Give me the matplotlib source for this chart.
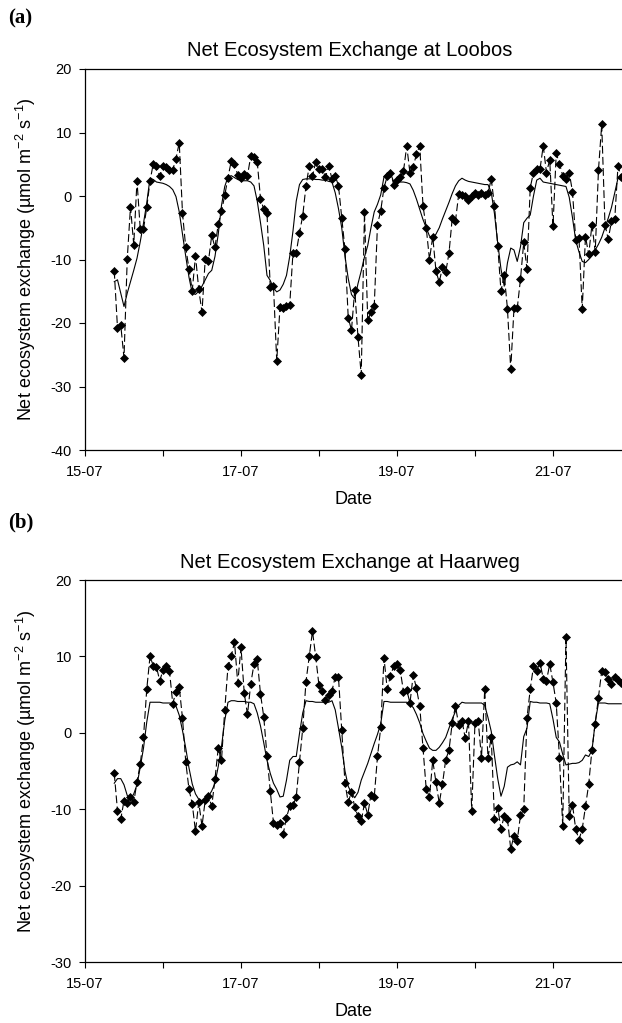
import matplotlib
matplotlib.use('Agg')
import matplotlib.pyplot as plt
import matplotlib.dates as mdates
import pandas as pd

plt.rcParams['font.family'] = ['Liberation Sans', 'DejaVu Sans']
plt.rcParams['mathtext.fontset'] = 'custom'
plt.rcParams['mathtext.rm'] = 'Liberation Sans'
plt.rcParams['mathtext.it'] = 'Liberation Sans:italic'
plt.rcParams['mathtext.default'] = 'regular'
plt.rcParams['axes.unicode_minus'] = False

# ---------------- data (hourly, starting 15-07 09:00) ----------------
start_time = '2003-07-15 09:00'

loobos_obs = [
    -11.8, -20.8, -20.3, -25.5, -9.9, -1.7, -7.7, 2.4, -5.2, -5.2,
    -1.8, 2.3, 5.1, 4.7, 3.1, 4.7, 4.5, 4.1, 4.1, 5.9,
    8.4, -2.7, -8.1, -11.5, -14.9, -9.4, -14.7, -18.3, -9.9, -10.2,
    -6.2, -8.1, -4.4, -2.4, 0.1, 2.9, 5.5, 5.1, 3.3, 2.9,
    3.4, 3.2, 6.3, 6.2, 5.4, -0.4, -2.1, -2.7, -14.3, -14.2,
    -26.0, -17.5, -17.7, -17.3, -17.1, -8.9, -8.9, -5.8, -3.1, 1.6,
    4.7, 3.1, 5.4, 4.3, 4.2, 3.0, 4.7, 2.7, 3.2, 1.6,
    -3.4, -8.4, -19.2, -21.1, -14.8, -22.2, -28.2, -2.5, -19.6, -18.3,
    -17.4, -4.5, -2.3, 1.3, 3.1, 3.7, 1.8, 2.5, 3.0, 3.9,
    7.9, 3.6, 4.6, 6.6, 7.9, -1.5, -5.0, -10.0, -6.4, -11.8,
    -13.6, -11.2, -12.0, -9.0, -3.5, -3.9, 0.3, 0.1, 0.0, -0.6,
    0.0, 0.4, 0.2, 0.5, 0.2, 0.4, 2.7, -1.5, -7.8, -15.0,
    -12.4, -17.8, -27.3, -17.7, -17.7, -13.1, -7.3, -11.5, 1.3, 3.7,
    4.3, 4.2, 7.9, 3.7, 5.7, -4.8, 6.7, 5.1, 3.2, 2.7,
    3.7, 0.7, -6.9, -6.6, -17.8, -6.4, -9.2, -4.5, -8.8, 4.1,
    11.3, -4.5, -6.8, -4.0, -3.7, 4.7, 3.0,
]

loobos_model = [
    -13.5, -13.2, -15.3, -17.4, -15.3, -13.5, -11.7, -9.8, -7.2, -4.3,
    -1.1, 2.8, 2.6, 2.2, 2.1, 2.0, 1.8, 1.5, 1.0, -0.1,
    -2.5, -6.0, -9.5, -12.8, -15.3, -15.5, -15.0, -14.2, -13.2, -12.2,
    -11.7, -9.5, -6.0, -1.5, 1.5, 3.0, 3.2, 2.9, 2.6, 2.4,
    2.4, 2.4, 2.2, 1.6, -0.8, -4.2, -7.8, -12.5, -13.3, -14.5,
    -15.1, -14.8, -13.9, -12.5, -9.5, -5.5, -0.8, 1.8, 2.6, 2.7,
    2.7, 2.7, 2.6, 2.6, 2.5, 2.5, 2.3, 2.2, 0.5, -2.0,
    -5.0, -9.5, -13.0, -15.5, -16.2, -13.8, -11.8, -9.6, -7.8, -5.0,
    -2.5, -1.3, 0.2, 3.0, 3.6, 3.6, 2.2, 2.2, 2.2, 2.2,
    2.1, 1.9, 0.9, -0.5, -2.1, -3.7, -5.0, -6.3, -6.7, -6.0,
    -5.0, -3.6, -2.3, -1.0, 0.4, 1.6, 2.4, 2.8, 2.5, 2.3,
    2.2, 2.1, 2.0, 1.9, 1.8, 1.8, 0.6, -2.8, -7.4, -11.5,
    -14.2, -10.5, -8.2, -8.5, -10.3, -8.0, -4.2, -3.5, -3.0, 0.0,
    2.5, 2.8, 2.2, 2.1, 2.0, 1.9, 1.8, 1.7, 1.6, 1.5,
    -0.2, -3.4, -7.0, -8.8, -10.3, -10.5, -10.0, -9.4, -8.5, -7.6,
    -6.5, -5.0, -3.5, -1.8, 0.5, 2.8, 2.6,
]

haarweg_obs = [
    -5.3, -10.2, -11.3, -8.9, -9.2, -8.4, -9.1, -6.4, -4.1, -0.6,
    5.7, 10.0, 8.8, 8.6, 6.8, 8.2, 8.8, 8.1, 3.8, 5.4,
    6.0, 1.9, -3.8, -7.4, -9.3, -12.9, -9.1, -12.2, -8.8, -8.3,
    -9.6, -6.0, -2.0, -3.6, 3.0, 8.7, 10.0, 11.9, 6.5, 11.2,
    5.2, 2.4, 6.4, 9.0, 9.6, 5.1, 2.1, -3.0, -7.6, -11.8,
    -12.1, -11.8, -13.2, -11.1, -9.6, -9.5, -8.4, -3.8, 0.6, 6.7,
    10.0, 13.3, 9.9, 6.2, 5.5, 4.3, 5.0, 5.5, 7.3, 7.3,
    0.4, -6.6, -9.1, -7.7, -9.7, -10.9, -11.6, -9.2, -10.7, -8.1,
    -8.4, -3.1, 0.7, 9.8, 5.7, 7.5, 8.7, 9.0, 8.2, 5.4,
    5.6, 3.9, 7.6, 5.8, 3.5, -2.0, -7.4, -8.4, -3.6, -6.5,
    -9.2, -6.7, -3.5, -2.3, 1.3, 3.5, 1.0, 1.6, -0.7, 1.5,
    -10.2, 1.3, 1.5, -3.3, 5.7, -3.3, -0.5, -11.3, -9.8, -12.6,
    -10.9, -11.3, -15.2, -13.5, -14.1, -10.8, -10.0, 1.9, 5.7, 8.7,
    8.1, 9.2, 7.1, 6.8, 9.0, 6.6, 3.9, -3.3, -12.2, 12.6,
    -10.9, -9.4, -12.6, -14.0, -12.6, -9.6, -6.7, -2.2, 1.2, 4.5,
    8.1, 7.9, 7.1, 6.4, 7.3, 6.9, 6.5,
]

haarweg_model = [
    -6.6, -6.0, -6.0, -6.8, -8.2, -8.7, -8.0, -6.8, -4.5, -2.0,
    1.4, 4.0, 4.0, 4.0, 4.0, 3.9, 3.9, 3.9, 3.8, 3.5,
    2.3, 0.3, -2.0, -4.6, -6.7, -8.0, -8.7, -8.9, -8.7, -8.3,
    -7.6, -6.6, -4.4, -1.8, 1.6, 4.0, 4.2, 4.2, 4.1, 4.1,
    4.1, 4.0, 4.0, 3.8, 2.6, 0.9, -1.3, -3.6, -5.3, -6.6,
    -7.4, -8.4, -8.3, -6.2, -3.6, -3.1, -3.1, -0.1, 2.6, 4.2,
    4.1, 4.1, 4.0, 4.0, 4.0, 4.0, 4.0, 4.2, 3.0, 0.6,
    -1.9, -5.0, -7.0, -7.9, -8.5, -7.8, -6.2, -5.1, -4.0, -2.7,
    -1.4, -0.2, 1.2, 4.1, 4.1, 4.0, 4.0, 4.0, 4.0, 4.0,
    4.0, 3.7, 3.3, 2.4, 1.3, -0.1, -1.1, -2.0, -2.3, -2.3,
    -1.9, -1.3, -0.6, 0.6, 1.8, 2.8, 3.6, 4.0, 3.9, 3.9,
    3.9, 3.9, 3.9, 3.9, 3.6, 2.0, 0.2, -3.0, -6.0, -8.3,
    -7.0, -4.5, -4.2, -4.1, -3.8, -4.2, -0.5, 0.6, 4.1, 4.0,
    4.0, 3.9, 3.9, 3.9, 3.8, 1.8, -0.6, -1.2, -2.8, -4.2,
    -4.1, -4.0, -4.0, -3.9, -3.6, -2.9, -3.1, -2.3, 1.4, 3.9,
    3.9, 3.9, 3.8, 3.8, 3.8, 3.8, 3.8,
]

titles = ['Net Ecosystem Exchange at Loobos', 'Net Ecosystem Exchange at Haarweg']
panel_tags = ['(a)', '(b)']
y_limits = [(-40, 20), (-30, 20)]
y_label = 'Net ecosystem exchange (\u00b5mol m$^{-2}$ s$^{-1}$)'
x_label = 'Date'

# ---------------- figure ----------------
W, H = 622, 1023
fig = plt.figure(figsize=(W / 100, H / 100), dpi=100)


def px_axes(left, top, right, bottom):
    return fig.add_axes([left / W, 1 - bottom / H, (right - left) / W, (bottom - top) / H])


axes = [px_axes(85, 69, 622, 450), px_axes(85, 580, 622, 962)]
series = [(loobos_obs, loobos_model), (haarweg_obs, haarweg_model)]
tag_y = [18, 522]

x0 = pd.Timestamp('2003-07-15 00:00')
x1 = x0 + pd.Timedelta(days=6.885)

for ax, (obs, mod), title, ylim, tag, ty in zip(axes, series, titles, y_limits, panel_tags, tag_y):
    t = pd.date_range(start_time, periods=len(obs), freq='h')
    ax.plot(t, mod, color='black', lw=0.8, zorder=2)
    ax.plot(t, obs, color='black', lw=0.8, dashes=(7, 3), marker='D', ms=3.8,
            mfc='black', mec='black', mew=0.5, zorder=3)
    ax.set_xlim(x0, x1)
    ax.set_ylim(*ylim)
    ax.set_yticks(range(ylim[0], ylim[1] + 1, 10))
    ax.xaxis.set_major_locator(mdates.DayLocator(bymonthday=[15, 17, 19, 21]))
    ax.xaxis.set_minor_locator(mdates.DayLocator())
    ax.xaxis.set_major_formatter(mdates.DateFormatter('%d-%m'))
    ax.spines['right'].set_visible(False)
    for s in ['left', 'bottom', 'top']:
        ax.spines[s].set_linewidth(0.9)
    ax.tick_params(which='both', direction='out', length=4.5, width=0.8,
                   labelsize=10.5, pad=6)
    ax.tick_params(axis='y', pad=5)
    ax.set_title(title, fontsize=14.5, pad=9, x=0.4925)
    ax.set_xlabel(x_label, fontsize=13, labelpad=9)
    ax.set_ylabel(y_label, fontsize=13)
    ax.yaxis.set_label_coords(-0.088, 0.5)
    fig.text(8 / W, 1 - ty / H, tag, fontfamily=['Liberation Serif', 'DejaVu Serif'],
             fontweight='bold', fontsize=15, va='center', ha='left')

fig.savefig('out.png', dpi=100)
